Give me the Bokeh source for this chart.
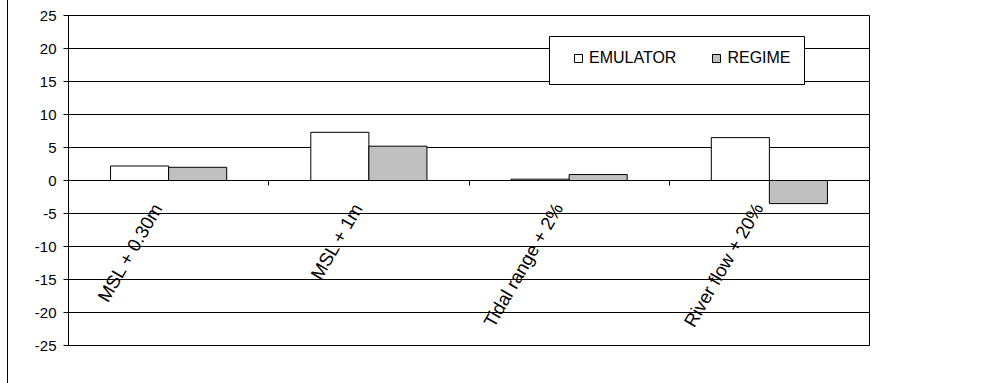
import math
from bokeh.plotting import figure
from bokeh.models import (Range1d, LinearAxis, FixedTicker, Legend, LegendItem,
                          ColumnDataSource, BoxAnnotation)
from bokeh.core.properties import value
from bokeh.transform import dodge
from bokeh.embed import file_html
from bokeh.resources import INLINE

# Scenario changes (%), two estimation methods
categories = ["MSL + 0.30m", "MSL + 1m", "Tidal range + 2%", "River flow + 20%"]
emulator = [2.2, 7.3, 0.2, 6.5]
regime = [2.0, 5.2, 0.9, -3.5]
y_ticks = [-25, -20, -15, -10, -5, 0, 5, 10, 15, 20, 25]

FONT = "Liberation Sans"
n = len(categories)
centers = [i + 0.5 for i in range(n)]   # slot centres on a 0..n axis

p = figure(
    x_range=Range1d(0, n),
    y_range=Range1d(-25, 25),
    width=977, height=383,
    min_border_left=60, min_border_right=116,
    min_border_top=15, min_border_bottom=38,
    x_axis_location=None, y_axis_location=None,
    output_backend="svg", toolbar_location=None,
)
p.styles = {"margin-left": "7px", "border-left": "1px solid #000"}
p.background_fill_color = "white"
p.border_fill_color = "white"
p.outline_line_color = "black"
p.outline_line_width = 1

src = ColumnDataSource(dict(pos=centers, emu=emulator, reg=regime,
                            name=categories, zero=[0] * n))
r_emu = p.vbar(x=dodge("pos", -0.145), top="emu", bottom=0,
               width=0.29, source=src, fill_color="white", line_color="black",
               line_width=1)
r_reg = p.vbar(x=dodge("pos", 0.145), top="reg", bottom=0,
               width=0.29, source=src, fill_color="#c0c0c0", line_color="black",
               line_width=1)

# value axis
yax = LinearAxis(ticker=FixedTicker(ticks=y_ticks))
yax.major_label_overrides = {t: str(t) for t in y_ticks}
yax.axis_line_color = "black"
yax.major_tick_out = 5
yax.major_tick_in = 0
yax.minor_tick_line_color = None
yax.major_label_standoff = 7
yax.major_label_text_font = FONT
yax.major_label_text_font_size = "15px"
yax.major_label_text_color = "black"
p.add_layout(yax, "left")

# horizontal grid
p.ygrid.ticker = FixedTicker(ticks=y_ticks)
p.ygrid.grid_line_color = "black"
p.ygrid.grid_line_width = 1
p.xgrid.grid_line_color = None

# category axis line at zero, with tick marks between categories
xax = LinearAxis(fixed_location=0, ticker=FixedTicker(ticks=list(range(1, n))))
xax.axis_line_color = "black"
xax.major_tick_out = 5
xax.major_tick_in = 0
xax.major_tick_line_color = "black"
xax.minor_tick_line_color = None
xax.major_label_text_color = None
p.add_layout(xax, "below")

# slanted category names hanging under the zero line
p.text(x="pos", y="zero", text="name", source=src, angle=math.pi / 3,
       x_offset=-11, y_offset=24, text_align="right",
       text_baseline="alphabetic", text_font=value(FONT),
       text_font_size="18.5px", text_color="black")

# legend frame (frame-relative screen units, y measured up from the bottom)
p.add_layout(BoxAnnotation(left=481, right=736, top=309, bottom=261,
                           left_units="screen", right_units="screen",
                           top_units="screen", bottom_units="screen",
                           fill_color="white", fill_alpha=1,
                           line_color="black", line_width=1, line_alpha=1))

legend = Legend(
    items=[LegendItem(label="EMULATOR", renderers=[r_emu]),
           LegendItem(label="REGIME", renderers=[r_reg])],
    orientation="horizontal", location=(481, 254),
    border_line_color="black", border_line_alpha=0,
    background_fill_alpha=0,
    glyph_width=10, glyph_height=10,
    padding=24, spacing=35, label_standoff=6, margin=0,
    label_text_font=FONT, label_text_font_size="16px",
    label_text_color="black",
)
p.add_layout(legend)

open("out.html", "w").write(file_html(p, INLINE))
